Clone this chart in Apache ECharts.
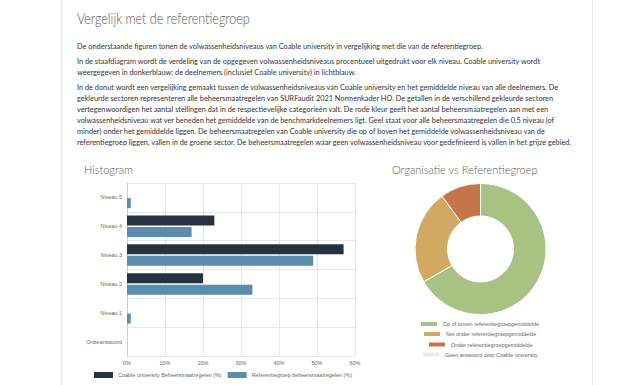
<!DOCTYPE html>
<html><head><meta charset="utf-8">
<script src="https://cdn.jsdelivr.net/npm/echarts@6/dist/echarts.min.js"></script>
<style>html,body{margin:0;padding:0;background:#fff}#c{width:640px;height:385px}</style>
</head><body><div id="c"></div>
<script>
// ---- texts ----
const pageTitle = "Vergelijk met de referentiegroep";
const paragraph1 = ["De onderstaande figuren tonen de volwassenheidsniveaus van Coable university in vergelijking met die van de referentiegroep."];
const paragraph2 = [
  "In de staafdiagram wordt de verdeling van de opgegeven volwassenheidsniveaus procentueel uitgedrukt voor elk niveau. Coable university wordt",
  "weergegeven in donkerblauw; de deelnemers (inclusief Coable university) in lichtblauw."
];
const paragraph3 = [
  "In de donut wordt een vergelijking gemaakt tussen de volwassenheidsniveaus van Coable university en het gemiddelde niveau van alle deelnemers. De",
  "gekleurde sectoren representeren alle beheersmaatregelen van SURFaudit 2021 Normenkader HO. De getallen in de verschillend gekleurde sectoren",
  "vertegenwoordigen het aantal stellingen dat in de respectievelijke categorieën valt. De rode kleur geeft het aantal beheersmaatregelen aan met een",
  "volwassenheidsniveau wat ver beneden het gemiddelde van de benchmarkdeelnemers ligt. Geel staat voor alle beheersmaatregelen die 0.5 niveau (of",
  "minder) onder het gemiddelde liggen. De beheersmaatregelen van Coable university die op of boven het gemiddelde volwassenheidsniveau van de",
  "referentiegroep liggen, vallen in de groene sector. De beheersmaatregelen waar geen volwassenheidsniveau voor gedefinieerd is vallen in het grijze gebied."
];
const histTitle = "Histogram";
const donutTitle = "Organisatie vs Referentiegroep";

// ---- histogram data ----
const levels = ["Niveau 5", "Niveau 4", "Niveau 3", "Niveau 2", "Niveau 1", "Onbeantwoord"];
const coableValues = [0, 23, 57, 20, 0, 0];
const referenceValues = [1, 17, 49, 33, 1, 0];
const histSeriesNames = ["Coable university Beheersmaatregelen (%)", "Referentiegroep beheersmaatregelen (%)"];
const xTickMin = 0, xTickMax = 60, xTickStep = 10;

// ---- donut data ----
const donutCategories = ["Op of boven referentiegroepgemiddelde", "Net onder referentiegroepgemiddelde", "Onder referentiegroepgemiddelde", "Geen antwoord door Coable university"];
const donutValues = [60, 21, 9, 0];
const donutColors = ["#a7c282", "#d1a963", "#c67549", "#e6edf0"];

// ---- font measuring ----
const cv = document.createElement('canvas').getContext('2d');
function measure(text, family, weight, size) {
  cv.font = weight + " " + size + "px '" + family + "'";
  return cv.measureText(text).width;
}
function fit(text, family, weight, target) {
  return 100 * target / measure(text, family, weight, 100);
}
const BODY_FONT = "Lato", HEAD_FONT = "Lato", CHART_FONT = "Liberation Sans";
const smallSize = fit(histSeriesNames[0], CHART_FONT, "normal", 104);

// text drawn at a given size, squeezed horizontally to the reference width
function squeezedText(text, x, y, size, width, family, weight, fill) {
  const s = width / measure(text, family, weight, size);
  return {type: 'text', x: x, y: y, scaleX: s, scaleY: 1,
    style: {text: text, x: 0, y: 0, fill: fill, fontFamily: family, fontWeight: weight, fontSize: size, verticalAlign: 'middle'}};
}

const graphics = [
  {type: 'line', shape: {x1: 61.5, y1: 0, x2: 61.5, y2: 385}, style: {stroke: '#ebebeb', lineWidth: 1}},
  {type: 'line', shape: {x1: 592.5, y1: 0, x2: 592.5, y2: 385}, style: {stroke: '#ebebeb', lineWidth: 1}},
  squeezedText(pageTitle, 77, 18, 15, 173, HEAD_FONT, 300, '#555'),
  squeezedText(histTitle, 84, 169, 12.5, 49, HEAD_FONT, 300, '#5a5a5a'),
  squeezedText(donutTitle, 392, 169, 12.5, 146, HEAD_FONT, 300, '#5a5a5a')
];
const bodySize = 7.4;
const bodyScale = 407 / measure(paragraph1[0], BODY_FONT, "normal", bodySize);
let y = 46;
const lh = 11, pgap = 4;
[paragraph1, paragraph2, paragraph3].forEach((p, i) => {
  if (i > 0) y += pgap;
  p.forEach(line => {
    graphics.push({type: 'text', x: 77, y: y, scaleX: bodyScale,
      style: {text: line, x: 0, y: 0, fill: '#333', fontFamily: BODY_FONT, fontSize: bodySize, verticalAlign: 'middle'}});
    y += lh;
  });
});

const chart = echarts.init(document.getElementById('c'), null, {renderer: 'svg'});
const smallText = {fontFamily: CHART_FONT, fontSize: smallSize, color: '#666'};

const legends = [{
  data: histSeriesNames, left: 94, top: 372, padding: 0, itemGap: 6, itemWidth: 19, itemHeight: 6,
  icon: 'rect', textStyle: smallText, selectedMode: false
}];
const donutLegendLeft = [419, 422, 427, 421];
const donutLegendTop = [320, 330, 340.5, 350.5];
donutCategories.forEach((n, i) => {
  legends.push({data: [n], left: donutLegendLeft[i], top: donutLegendTop[i], padding: 0, itemWidth: 18, itemHeight: 6,
    icon: 'rect', textStyle: smallText, selectedMode: false});
});

chart.setOption({
  animation: false,
  graphic: graphics,
  legend: legends,
  grid: {left: 127, right: 285, top: 183, bottom: 29, containLabel: false},
  xAxis: {
    type: 'value', min: xTickMin, max: xTickMax, interval: xTickStep,
    axisLabel: {formatter: '{value}%', margin: 4, ...smallText},
    axisLine: {show: true, lineStyle: {color: '#e6e6e6'}},
    axisTick: {show: false},
    splitLine: {show: true, lineStyle: {color: '#e6e6e6'}}
  },
  yAxis: {
    type: 'category', data: levels, inverse: true,
    axisLabel: {margin: 5, ...smallText},
    axisLine: {show: true, lineStyle: {color: '#cfcfcf'}},
    axisTick: {show: false},
    splitLine: {show: true, lineStyle: {color: '#e6e6e6'}}
  },
  series: [
    {name: histSeriesNames[0], type: 'bar', data: coableValues, barWidth: 10, barGap: '15%',
     itemStyle: {color: '#24333f'}, emphasis: {disabled: true}},
    {name: histSeriesNames[1], type: 'bar', data: referenceValues, barWidth: 10, barGap: '15%',
     itemStyle: {color: '#5a8cae'}, emphasis: {disabled: true}},
    {type: 'pie', radius: [33, 65.5], center: [480.5, 249], startAngle: 90, clockwise: true,
     label: {show: false}, labelLine: {show: false}, emphasis: {disabled: true},
     itemStyle: {borderColor: '#fff', borderWidth: 1},
     data: donutCategories.map((n, i) => ({name: n, value: donutValues[i], itemStyle: {color: donutColors[i]}}))}
  ]
});
</script></body></html>
